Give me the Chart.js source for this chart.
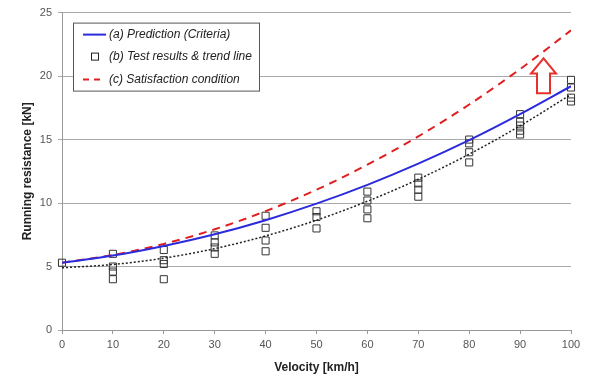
<!DOCTYPE html>
<html>
<head>
<meta charset="utf-8">
<script src="https://cdn.jsdelivr.net/npm/chart.js@4/dist/chart.umd.min.js"></script>
<style>
  html, body { margin: 0; padding: 0; background: #fff; }
  #wrap { width: 590px; height: 376px; }
</style>
</head>
<body>
<div id="wrap"><canvas id="chart" width="590" height="376"></canvas></div>
<script>
// velocity steps for the curves
const speeds = [0, 10, 20, 30, 40, 50, 60, 70, 80, 90, 100];
// (a) prediction (criteria)
const predicted = [5.3, 5.86, 6.62, 7.54, 8.65, 9.95, 11.43, 13.1, 14.95, 17.0, 19.2];
// (c) satisfaction condition
const satisfaction = [5.3, 5.91, 6.78, 7.93, 9.36, 11.05, 13.02, 15.25, 17.76, 20.55, 23.6];
// (b) trend line of test results
const trend = [4.9, 5.16, 5.66, 6.41, 7.41, 8.65, 10.14, 11.87, 13.85, 16.08, 18.55];

// (b) test results
const testSpeed = [0, 10, 10, 10, 10, 20, 20, 20, 20, 30, 30, 30, 30, 40, 40, 40, 40,
  50, 50, 50, 60, 60, 60, 60, 70, 70, 70, 70, 80, 80, 80, 80, 90, 90, 90, 90, 90,
  100, 100, 100, 100];
const testForce = [5.3, 6.0, 5.0, 4.6, 4.0, 6.3, 5.5, 5.2, 4.0, 7.45, 6.9, 6.5, 6.0, 9.0, 8.05, 7.05, 6.2,
  9.35, 8.9, 8.0, 10.9, 10.2, 9.5, 8.8, 12.0, 11.55, 11.05, 10.5, 15.0, 14.7, 14.0, 13.2, 17.0, 16.4, 16.1, 15.7, 15.4,
  19.7, 19.1, 18.3, 18.0];

const yTicks = [0, 5, 10, 15, 20, 25];
const xTicks = [0, 10, 20, 30, 40, 50, 60, 70, 80, 90, 100];

const legendLabels = ['(a) Prediction (Criteria)', '(b) Test results & trend line', '(c) Satisfaction condition'];

// arrow showing the margin (data units)
const arrowAt = { x: 94.6, bottom: 18.65, headBase: 20.2, tip: 21.4 };

const toXY = (xs, ys) => xs.map((x, i) => ({ x: x, y: ys[i] }));

const extras = {
  id: 'extras',
  afterDraw(chart) {
    const ctx = chart.ctx;
    const xs = chart.scales.x, ys = chart.scales.y;
    const a = chart.chartArea;

    // hollow red arrow
    const cx = xs.getPixelForValue(arrowAt.x);
    const headW = 12.5, shaftW = 6.5;
    const yb = ys.getPixelForValue(arrowAt.bottom);
    const yh = ys.getPixelForValue(arrowAt.headBase);
    const yt = ys.getPixelForValue(arrowAt.tip);
    ctx.save();
    ctx.beginPath();
    ctx.moveTo(cx - shaftW, yb);
    ctx.lineTo(cx - shaftW, yh);
    ctx.lineTo(cx - headW, yh);
    ctx.lineTo(cx, yt);
    ctx.lineTo(cx + headW, yh);
    ctx.lineTo(cx + shaftW, yh);
    ctx.lineTo(cx + shaftW, yb);
    ctx.closePath();
    ctx.fillStyle = '#fff';
    ctx.fill();
    ctx.strokeStyle = '#e8302a';
    ctx.lineWidth = 2;
    ctx.stroke();
    ctx.restore();

    // legend box
    const bx = a.left + 11, by = a.top + 10, bw = 186, bh = 68;
    ctx.save();
    ctx.fillStyle = '#fff';
    ctx.fillRect(bx, by, bw, bh);
    ctx.strokeStyle = '#555';
    ctx.lineWidth = 1;
    ctx.strokeRect(bx + 0.5, by + 0.5, bw, bh);

    const rows = [by + 12, by + 34, by + 57];
    // (a) blue line
    ctx.strokeStyle = '#2b2bdc';
    ctx.lineWidth = 2;
    ctx.beginPath();
    ctx.moveTo(bx + 10, rows[0]);
    ctx.lineTo(bx + 33, rows[0]);
    ctx.stroke();
    // (b) square
    ctx.strokeStyle = '#222';
    ctx.lineWidth = 1;
    ctx.strokeRect(bx + 18.5, rows[1] - 3.5, 7, 7);
    // (c) red dashes
    ctx.strokeStyle = '#e02020';
    ctx.lineWidth = 2;
    ctx.setLineDash([6, 5]);
    ctx.beginPath();
    ctx.moveTo(bx + 10, rows[2]);
    ctx.lineTo(bx + 30, rows[2]);
    ctx.stroke();
    ctx.setLineDash([]);

    ctx.fillStyle = '#222';
    ctx.font = 'italic 12px "Liberation Sans", Arial, sans-serif';
    ctx.textBaseline = 'middle';
    legendLabels.forEach((t, i) => ctx.fillText(t, bx + 36, rows[i]));
    ctx.restore();
  }
};

new Chart(document.getElementById('chart'), {
  type: 'line',
  data: {
    datasets: [
      {
        label: legendLabels[1],
        type: 'scatter',
        data: toXY(testSpeed, testForce),
        showLine: false,
        clip: false,
        pointStyle: 'rect',
        pointRadius: 5,
        pointBackgroundColor: 'rgba(255,255,255,0)',
        pointBorderColor: '#333',
        pointBorderWidth: 1,
        order: 4
      },
      {
        label: 'trend',
        data: toXY(speeds, trend),
        borderColor: '#222',
        borderWidth: 1.5,
        borderDash: [2, 2],
        pointRadius: 0,
        cubicInterpolationMode: 'monotone',
        order: 3
      },
      {
        label: legendLabels[2],
        data: toXY(speeds, satisfaction),
        borderColor: '#e02020',
        borderWidth: 2,
        borderDash: [8, 6],
        pointRadius: 0,
        cubicInterpolationMode: 'monotone',
        order: 2
      },
      {
        label: legendLabels[0],
        data: toXY(speeds, predicted),
        borderColor: '#2b2bdc',
        borderWidth: 2,
        pointRadius: 0,
        cubicInterpolationMode: 'monotone',
        order: 1
      }
    ]
  },
  options: {
    responsive: false,
    animation: false,
    events: [],
    layout: { padding: { left: 0, right: 19, top: 11, bottom: 0 } },
    plugins: { legend: { display: false }, tooltip: { enabled: false } },
    scales: {
      x: {
        type: 'linear',
        min: 0, max: 100,
        afterBuildTicks: s => { s.ticks = xTicks.map(v => ({ value: v })); },
        afterFit: s => { s.height = 46; },
        border: { color: '#999', width: 1 },
        grid: { drawOnChartArea: false, drawTicks: true, tickLength: 4, color: '#999' },
        ticks: { color: '#555', padding: 4, maxRotation: 0, font: { family: '"Liberation Sans", Arial, sans-serif', size: 11 } },
        title: {
          display: true, text: 'Velocity [km/h]', color: '#222',
          padding: { top: 0, bottom: 1 },
          font: { family: '"Liberation Sans", Arial, sans-serif', size: 12, weight: 'bold' }
        }
      },
      y: {
        min: 0, max: 25,
        afterBuildTicks: s => { s.ticks = yTicks.map(v => ({ value: v })); },
        afterFit: s => { s.width = 62; },
        border: { color: '#999', width: 1 },
        grid: { color: '#aaa', tickLength: 4, drawTicks: true },
        ticks: { color: '#555', padding: 6, font: { family: '"Liberation Sans", Arial, sans-serif', size: 11 } },
        title: {
          display: true, text: 'Running resistance [kN]', color: '#222',
          padding: { top: 20, bottom: 0 },
          font: { family: '"Liberation Sans", Arial, sans-serif', size: 12, weight: 'bold' }
        }
      }
    }
  },
  plugins: [extras]
});
</script>
</body>
</html>
